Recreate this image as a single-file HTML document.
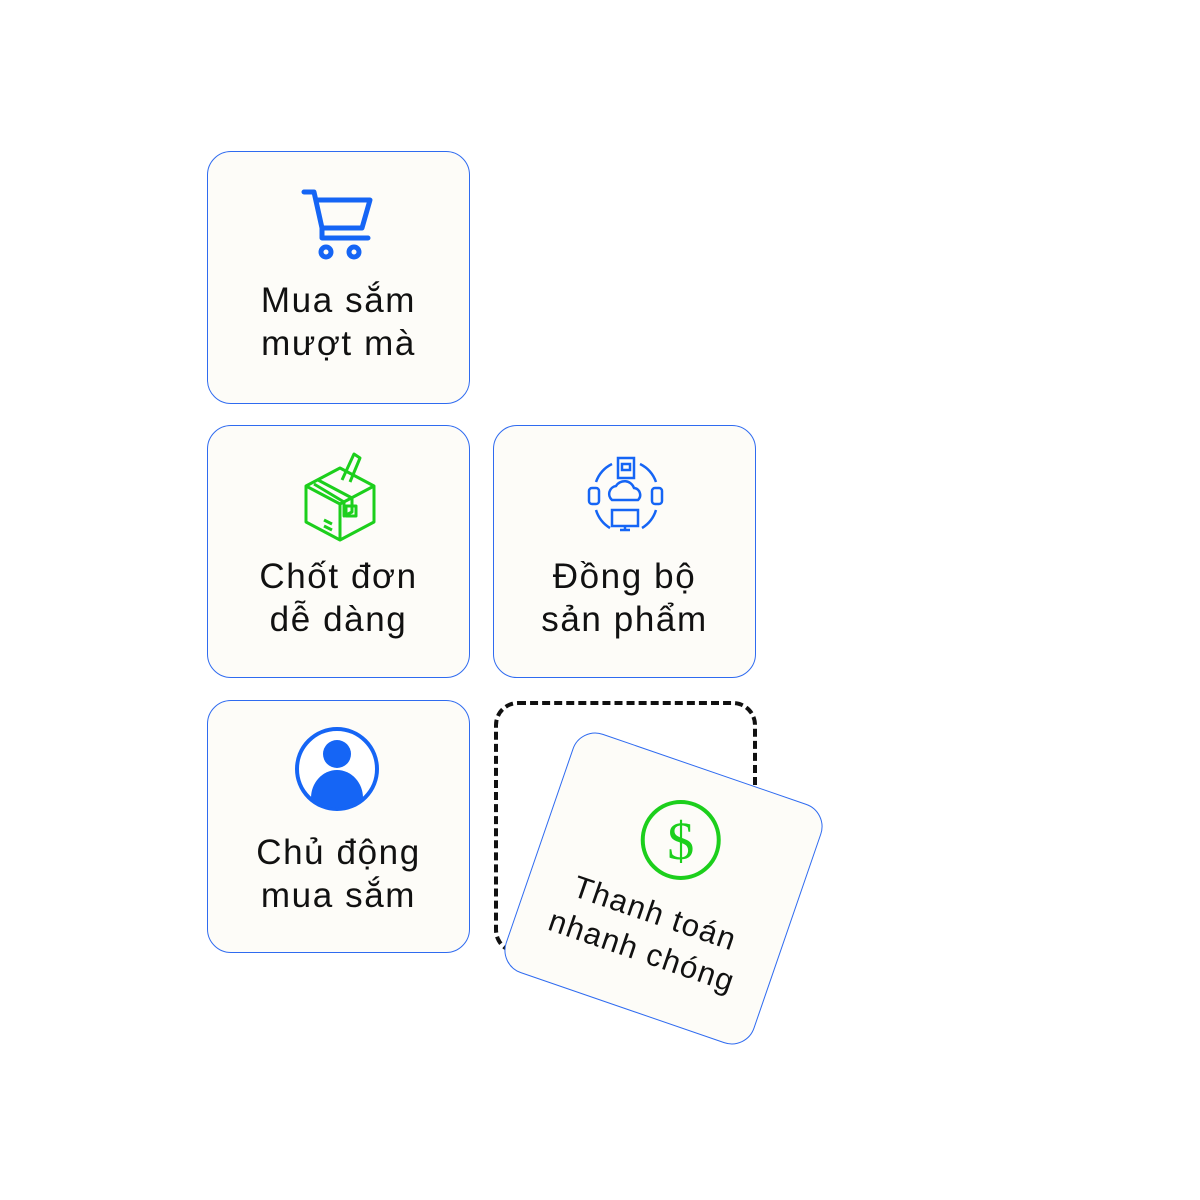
<!DOCTYPE html>
<html><head><meta charset="utf-8"><style>
body{margin:0;width:1200px;height:1200px;background:#fff;position:relative;overflow:hidden;font-family:"Liberation Sans",sans-serif;}
.card{position:absolute;width:261px;height:251px;border:1px solid #2f6bf0;border-radius:24px;background:#fdfcf8;box-sizing:content-box;}
.t{position:absolute;left:-20px;width:301px;text-align:center;font-size:35px;line-height:43px;color:#111;letter-spacing:1.6px;}
svg{position:absolute;}
</style></head><body>
<div class="card" style="left:207px;top:151px">
<svg style="left:92px;top:34px" width="80" height="76" viewBox="0 0 80 76"><g fill="none" stroke="#1565f5" stroke-width="5" stroke-linejoin="round" stroke-linecap="round"><path d="M4 6h10l8 36h40l8-28H18"/><path d="M22 42v10h46"/><circle cx="26" cy="66" r="5"/><circle cx="54" cy="66" r="5"/></g></svg>
<div class="t" style="top:127px">Mua sắm<br>mượt mà</div></div>
<div class="card" style="left:207px;top:425px">
<svg style="left:94px;top:24px" width="76" height="92" viewBox="0 0 76 92"><g fill="none" stroke="#1ccf1c" stroke-width="3" stroke-linejoin="round"><path d="M4 36l34-18 34 18v36L38 90 4 72z"/><path d="M4 36l34 18 34-18M38 54v36"/><path d="M16 30l34 18v14l-8 4V52L12 34"/><path d="M40 30l12-26 6 4-10 24"/><rect x="44" y="56" width="10" height="10"/><path d="M22 70l8 4M22 76l8 4"/></g></svg>
<div class="t" style="top:129px">Chốt đơn<br>dễ dàng</div></div>
<div class="card" style="left:493px;top:425px">
<svg style="left:92px;top:30px" width="80" height="80" viewBox="0 0 80 80"><g fill="none" stroke="#1565f5" stroke-width="2.5"><rect x="32" y="2" width="16" height="20"/><rect x="36" y="8" width="8" height="6"/><rect x="26" y="54" width="26" height="16"/><path d="M34 74h10M39 70v4"/><path d="M26 44a8 8 0 0 1 4-14a10 10 0 0 1 18 2a7 7 0 0 1 4 12z"/><rect x="3" y="32" width="10" height="16" rx="3"/><rect x="66" y="32" width="10" height="16" rx="3"/><path d="M10 26a32 32 0 0 1 16-18M54 8a32 32 0 0 1 16 18M10 54a32 32 0 0 0 14 18M56 72a32 32 0 0 0 14-18"/></g></svg>
<div class="t" style="top:129px">Đồng bộ<br>sản phẩm</div></div>
<div class="card" style="left:207px;top:700px">
<svg style="left:86px;top:25px" width="86" height="86" viewBox="0 0 86 86"><circle cx="43" cy="43" r="40" fill="#fff" stroke="#1565f5" stroke-width="4"/><circle cx="43" cy="28" r="14" fill="#1565f5"/><path d="M17 72a26 28 0 0 1 52 0a40 40 0 0 1-52 0z" fill="#1565f5"/></svg>
<div class="t" style="top:130px">Chủ động<br>mua sắm</div></div>
<div style="position:absolute;left:494px;top:701px;width:255px;height:245px;border:4px dashed #111;border-radius:24px"></div>
<div class="card" style="left:532px;top:762px;transform:rotate(19deg)">
<svg style="left:90px;top:33px;transform:rotate(-19deg)" width="82" height="82" viewBox="0 0 82 82"><circle cx="41" cy="41" r="38" fill="none" stroke="#1ccf1c" stroke-width="4"/><text x="41" y="60" text-anchor="middle" font-size="54" fill="#1ccf1c" font-family="Liberation Serif">$</text></svg>
<div class="t" style="top:132px;font-size:31px;letter-spacing:1.4px;line-height:40px">Thanh toán<br>nhanh chóng</div></div>
</body></html>
